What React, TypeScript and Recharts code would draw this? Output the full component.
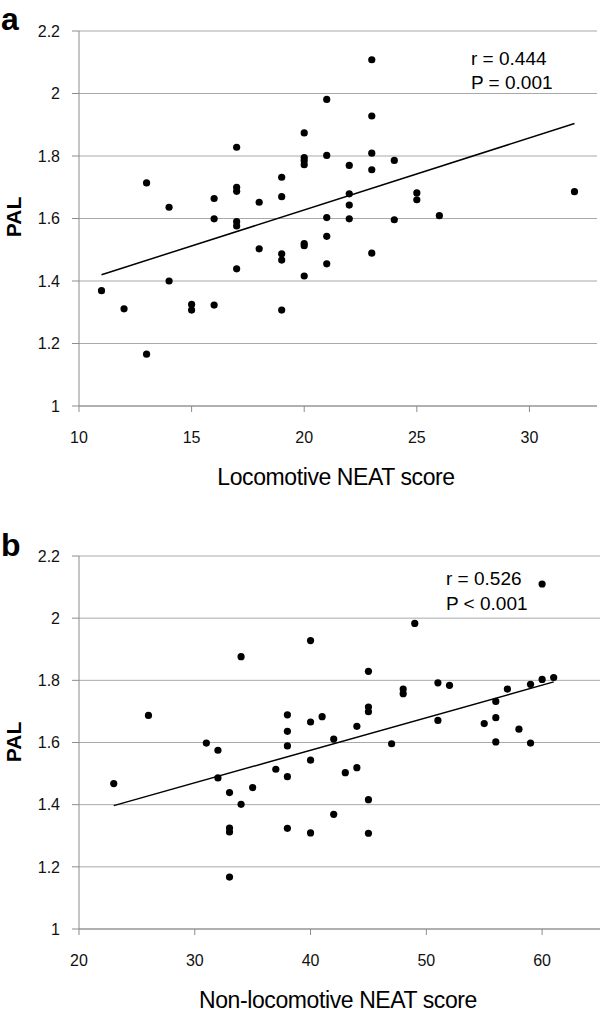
import React from "react";
import {
  ScatterChart,
  Scatter,
  XAxis,
  YAxis,
  CartesianGrid,
  ReferenceLine,
} from "recharts";

// panel a: locomotive NEAT score vs PAL
const locoScore = [
  11, 12, 13, 13, 14, 14, 15, 15, 16, 16, 16, 17, 17, 17, 17, 17, 17, 18, 18,
  19, 19, 19, 19, 19, 20, 20, 20, 20, 20, 20, 20, 21, 21, 21, 21, 21, 22, 22,
  22, 22, 23, 23, 23, 23, 23, 24, 24, 25, 25, 26, 32,
];
const locoPal = [
  1.369, 1.311, 1.714, 1.166, 1.636, 1.4, 1.325, 1.307, 1.664, 1.599, 1.323,
  1.828, 1.7, 1.687, 1.59, 1.576, 1.439, 1.652, 1.503, 1.732, 1.67, 1.487,
  1.467, 1.307, 1.874, 1.795, 1.785, 1.772, 1.52, 1.513, 1.416, 1.981, 1.802,
  1.603, 1.543, 1.455, 1.77, 1.679, 1.643, 1.599, 2.108, 1.928, 1.809, 1.756,
  1.489, 1.786, 1.596, 1.682, 1.66, 1.609, 1.686,
];
const locoTrend = [
  { x: 11, y: 1.42 },
  { x: 32, y: 1.904 },
];
const locoTicks = [10, 15, 20, 25, 30];

// panel b: non-locomotive NEAT score vs PAL
const nonLocoScore = [
  23, 26, 31, 32, 32, 33, 33, 33, 33, 34, 34, 35, 37, 38, 38, 38, 38, 38, 40,
  40, 40, 40, 41, 42, 42, 43, 44, 44, 45, 45, 45, 45, 45, 47, 48, 48, 49, 51,
  51, 52, 55, 56, 56, 56, 57, 58, 59, 59, 60, 60, 61,
];
const nonLocoPal = [
  1.468, 1.687, 1.598, 1.575, 1.486, 1.439, 1.325, 1.312, 1.167, 1.876, 1.401,
  1.455, 1.514, 1.689, 1.636, 1.589, 1.49, 1.324, 1.928, 1.666, 1.543, 1.309,
  1.683, 1.611, 1.369, 1.503, 1.652, 1.519, 1.829, 1.714, 1.699, 1.416, 1.308,
  1.596, 1.772, 1.757, 1.983, 1.792, 1.671, 1.784, 1.661, 1.732, 1.68, 1.602,
  1.772, 1.643, 1.787, 1.598, 2.11, 1.803, 1.809,
];
const nonLocoTrend = [
  { x: 23, y: 1.397 },
  { x: 61, y: 1.795 },
];
const nonLocoTicks = [20, 30, 40, 50, 60];

const palTicks = [1, 1.2, 1.4, 1.6, 1.8, 2, 2.2];

const FONT = '"Liberation Sans", Arial, Helvetica, sans-serif';
const GRID = "#a9a9a9";
const AXIS = "#8c8c8c";

const Dot = (props: any) => (
  <circle cx={props.cx} cy={props.cy} r={3.6} fill="#000" />
);

interface PanelProps {
  xs: number[];
  ys: number[];
  trend: { x: number; y: number }[];
  xDomain: [number, number];
  xTicks: number[];
  height: number;
  top: number;
  right: number;
  xAxisHeight: number;
}

function Panel({ xs, ys, trend, xDomain, xTicks, height, top, right, xAxisHeight }: PanelProps) {
  const data = xs.map((x, i) => ({ x, y: ys[i] }));
  return (
    <ScatterChart
      width={600}
      height={height}
      margin={{ top, right, left: 0, bottom: 0 }}
    >
      <CartesianGrid vertical={false} stroke={GRID} strokeWidth={1} />
      <XAxis
        type="number"
        dataKey="x"
        domain={xDomain}
        ticks={xTicks}
        height={xAxisHeight}
        stroke={AXIS}
        tickSize={6}
        tickMargin={20}
        tick={{ fill: "#111", fontSize: 16, fontFamily: FONT }}
      />
      <YAxis
        type="number"
        dataKey="y"
        domain={[1, 2.2]}
        ticks={palTicks}
        width={79}
        stroke={AXIS}
        tickSize={7}
        tickMargin={12}
        tickFormatter={(v: number) => String(Number(v.toFixed(1)))}
        tick={{ fill: "#111", fontSize: 16, fontFamily: FONT }}
      />
      <ReferenceLine segment={trend} stroke="#000" strokeWidth={1.5} />
      <Scatter data={data} shape={<Dot />} isAnimationActive={false} />
    </ScatterChart>
  );
}

const txt = (extra: React.CSSProperties): React.CSSProperties => ({
  position: "absolute",
  fontFamily: FONT,
  color: "#000",
  whiteSpace: "nowrap",
  lineHeight: 1,
  ...extra,
});

export default function App() {
  return (
    <div style={{ position: "absolute", left: 0, top: 0, width: 600, height: 1015, background: "#fff" }}>
      <Panel
        xs={locoScore}
        ys={locoPal}
        trend={locoTrend}
        xDomain={[10, 33]}
        xTicks={locoTicks}
        height={500}
        top={31}
        right={3}
        xAxisHeight={94}
      />
      <Panel
        xs={nonLocoScore}
        ys={nonLocoPal}
        trend={nonLocoTrend}
        xDomain={[20, 65]}
        xTicks={nonLocoTicks}
        height={515}
        top={56}
        right={0}
        xAxisHeight={86}
      />

      {/* panel letters */}
      <div style={txt({ left: 1, top: 3, fontSize: 32, fontWeight: 700 })}>a</div>
      <div style={txt({ left: 1, top: 529, fontSize: 32, fontWeight: 700 })}>b</div>

      {/* y axis titles */}
      <div style={txt({ left: 13, top: 217, fontSize: 21, fontWeight: 700, transform: "translate(-50%, -50%) rotate(-90deg)" })}>PAL</div>
      <div style={txt({ left: 13, top: 742, fontSize: 21, fontWeight: 700, transform: "translate(-50%, -50%) rotate(-90deg)" })}>PAL</div>

      {/* x axis titles */}
      <div style={txt({ left: 336, top: 466, fontSize: 23, letterSpacing: -0.4, transform: "translateX(-50%)" })}>Locomotive NEAT score</div>
      <div style={txt({ left: 338, top: 989, fontSize: 23, letterSpacing: -0.4, transform: "translateX(-50%)" })}>Non-locomotive NEAT score</div>

      {/* correlation annotations */}
      <div style={txt({ left: 471, top: 47, fontSize: 19, lineHeight: "24px" })}>
        r = 0.444
        <br />P = 0.001
      </div>
      <div style={txt({ left: 446, top: 566, fontSize: 19, lineHeight: "25px" })}>
        r = 0.526
        <br />P &lt; 0.001
      </div>
    </div>
  );
}
